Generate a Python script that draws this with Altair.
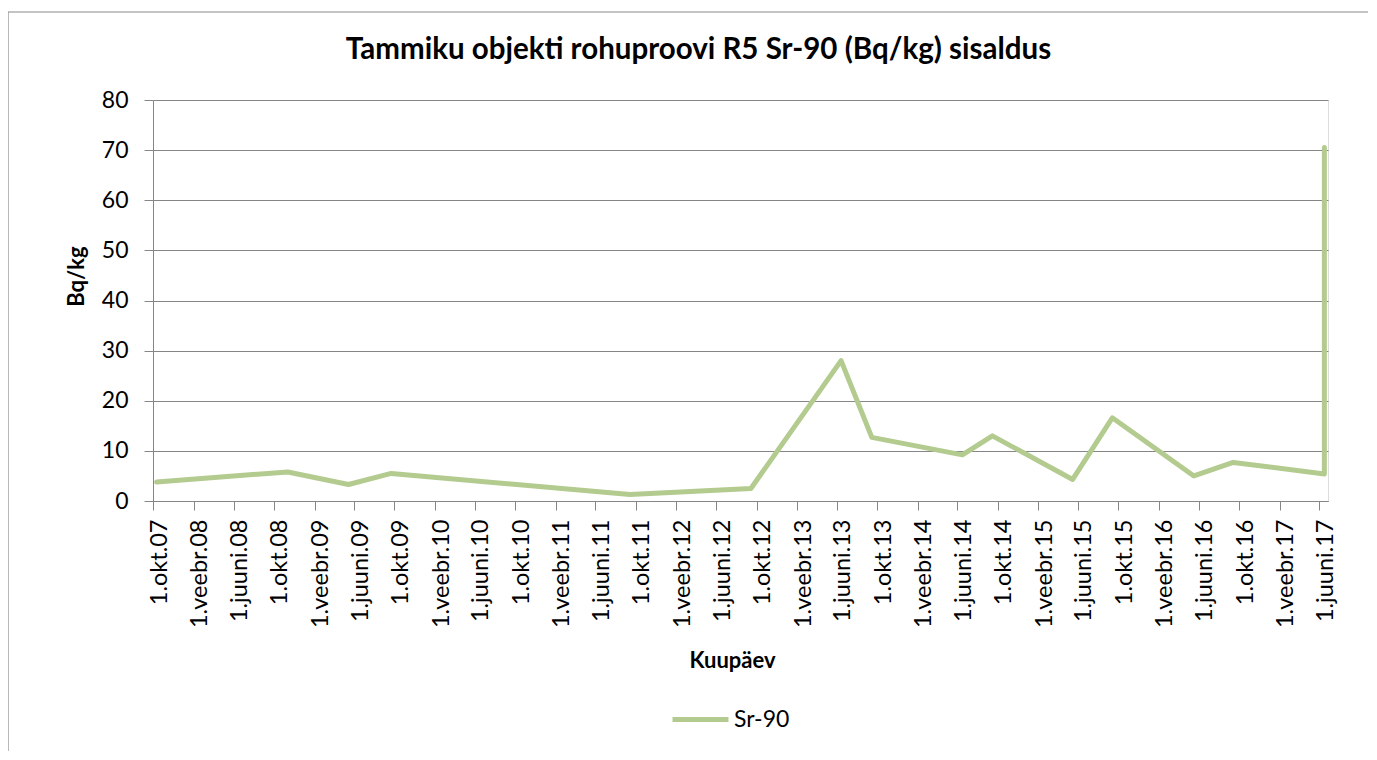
import json
import altair as alt
import pandas as pd

# ---- data ----
dates = ["2007-10-12", "2008-11-12", "2009-05-15", "2009-09-21", "2011-09-14",
         "2012-09-14", "2013-06-14", "2013-09-15", "2014-06-16", "2014-09-15",
         "2015-05-16", "2015-09-13", "2016-05-17", "2016-09-13", "2017-06-16",
         "2017-06-16"]
values = [3.8, 5.8, 3.3, 5.5, 1.3, 2.5, 28.0, 12.7, 9.2, 13.0, 4.3, 16.6,
          5.0, 7.7, 5.4, 70.5]
series_name = "Sr-90"

tick_dates = ["2007-10-01", "2008-02-01", "2008-06-01", "2008-10-01", "2009-02-01",
              "2009-06-01", "2009-10-01", "2010-02-01", "2010-06-01", "2010-10-01",
              "2011-02-01", "2011-06-01", "2011-10-01", "2012-02-01", "2012-06-01",
              "2012-10-01", "2013-02-01", "2013-06-01", "2013-10-01", "2014-02-01",
              "2014-06-01", "2014-10-01", "2015-02-01", "2015-06-01", "2015-10-01",
              "2016-02-01", "2016-06-01", "2016-10-01", "2017-02-01", "2017-06-01"]
tick_labels = ["1.okt.07", "1.veebr.08", "1.juuni.08", "1.okt.08", "1.veebr.09",
               "1.juuni.09", "1.okt.09", "1.veebr.10", "1.juuni.10", "1.okt.10",
               "1.veebr.11", "1.juuni.11", "1.okt.11", "1.veebr.12", "1.juuni.12",
               "1.okt.12", "1.veebr.13", "1.juuni.13", "1.okt.13", "1.veebr.14",
               "1.juuni.14", "1.okt.14", "1.veebr.15", "1.juuni.15", "1.okt.15",
               "1.veebr.16", "1.juuni.16", "1.okt.16", "1.veebr.17", "1.juuni.17"]
x_domain = ["2007-10-01", "2017-06-27"]
y_ticks = [0, 10, 20, 30, 40, 50, 60, 70, 80]

title_text = "Tammiku objekti rohuproovi R5 Sr-90 (Bq/kg) sisaldus"
x_title = "Kuupäev"
y_title = "Bq/kg"

# ---- build ----
def to_ms(s):
    return int(pd.Timestamp(s, tz="UTC").value // 1_000_000)

tick_ms = [to_ms(d) for d in tick_dates]
dom_ms = [to_ms(d) for d in x_domain]

df = pd.DataFrame({
    "date": dates,
    "value": values,
    "idx": list(range(len(values))),
    "series": [series_name] * len(values),
})

FONT = "Lato"
GRID = "#868686"
LINE = "#B3CB8F"

label_expr = (f"{json.dumps(tick_labels)}"
              f"[indexof({json.dumps(tick_ms)}, toNumber(datum.value))]")

line = alt.Chart(df).mark_line(strokeWidth=5, strokeCap="round", strokeJoin="round").encode(
    x=alt.X("date:T",
            scale=alt.Scale(type="utc", domain=dom_ms),
            axis=alt.Axis(values=tick_ms, labelExpr=label_expr, labelAngle=-90,
                          labelAlign="right", labelBaseline="middle",
                          labelOffset=6, labelPadding=9,
                          labelFont=FONT, labelFontSize=23.5, labelColor="#000",
                          tickSize=9, tickColor=GRID, domainColor=GRID,
                          grid=False, labelOverlap=False, labelFlush=False,
                          title=x_title, titleFont=FONT, titleFontSize=22,
                          titleFontWeight="bold", titleColor="#000",
                          titleX=579, titleY=166, titleBaseline="alphabetic",
                          titleAlign="center")),
    y=alt.Y("value:Q",
            scale=alt.Scale(domain=[0, 80], nice=False, zero=True),
            axis=alt.Axis(values=y_ticks, labelFont=FONT, labelFontSize=23,
                          labelColor="#000", labelPadding=16,
                          tickSize=9, tickColor=GRID, domainColor=GRID,
                          grid=True, gridColor=GRID, gridWidth=1,
                          title=y_title, titleFont=FONT, titleFontSize=22,
                          titleFontWeight="bold", titleColor="#000",
                          titleX=-70, titleY=176, titleAngle=-90,
                          titleBaseline="alphabetic", titleAlign="center")),
    color=alt.Color("series:N",
                    scale=alt.Scale(range=[LINE]),
                    legend=alt.Legend(title=None, orient="none",
                                      legendX=517, legendY=589,
                                      symbolType="stroke", symbolSize=3136,
                                      symbolStrokeWidth=5, labelOffset=3,
                                      labelFont=FONT, labelFontSize=23,
                                      labelColor="#000", padding=0)),
    order=alt.Order("idx:Q"),
)

frame_df = pd.DataFrame({"k": [0]})
frame_v = alt.Chart(frame_df).mark_rule(stroke="#8a8a8a", strokeWidth=1.2).encode(
    x=alt.value(-145), y=alt.value(-88), y2=alt.value(800)
)
frame_h = alt.Chart(frame_df).mark_rule(stroke="#8a8a8a", strokeWidth=1.2).encode(
    x=alt.value(-145), x2=alt.value(1400), y=alt.value(-88)
)

chart = alt.layer(frame_v, frame_h, line).properties(
    width=1175, height=401,
    title=alt.TitleParams(title_text, font=FONT, fontSize=29.5, fontWeight="bold",
                          color="#000", anchor="middle", dx=-42, offset=-77,
                          baseline="alphabetic", frame="group"),
    autosize=alt.AutoSizeParams(type="none"),
    padding={"left": 145, "top": 92, "right": 40, "bottom": 250},
).configure_view(stroke=None).configure(background="white")

chart.save("out.html", embed_options={"renderer": "svg", "actions": False})
